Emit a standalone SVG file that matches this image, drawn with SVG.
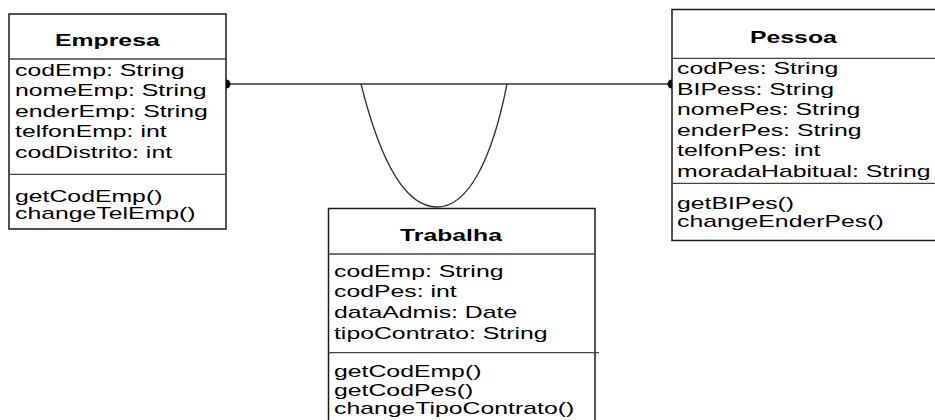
<svg xmlns="http://www.w3.org/2000/svg" width="935" height="420" viewBox="0 0 935 420">
<style>
.box{fill:#fff;stroke:#1a1a1a;stroke-width:1.5}
.div{stroke:#444;stroke-width:1.3}
.t{font-family:"Liberation Sans",Arial,sans-serif;font-size:16px;fill:#000}
.h{font-family:"Liberation Sans",Arial,sans-serif;font-size:16px;font-weight:bold;fill:#000}
.conn{fill:none;stroke:#333;stroke-width:1.3}
</style>
<rect width="935" height="420" fill="#fff"/>
<g id="connectors">
<line class="conn" x1="226" y1="84" x2="672" y2="84"/>
<path class="conn" d="M361,84 C380,160 405,207 437,207 C468,207 492,160 507,84"/>
<circle cx="226" cy="84" r="4.5" fill="#000"/>
<circle cx="672" cy="84" r="4.5" fill="#000"/>
</g>
<g id="Empresa">
<rect class="box" x="9" y="14" width="217" height="215"/>
<line class="div" x1="9" y1="59" x2="226" y2="59"/>
<line class="div" x1="9" y1="174.3" x2="226" y2="174.3"/>
<g transform="scale(1.55,1)">
<text class="h" x="35.48" y="46">Empresa</text>
<text class="t" x="9.68" y="76">codEmp: String</text>
<text class="t" x="9.68" y="96.5">nomeEmp: String</text>
<text class="t" x="9.68" y="117">enderEmp: String</text>
<text class="t" x="9.68" y="137.5">telfonEmp: int</text>
<text class="t" x="9.68" y="158">codDistrito: int</text>
<text class="t" x="9.68" y="202">getCodEmp()</text>
<text class="t" x="9.68" y="219.5">changeTelEmp()</text>
</g>
</g>
<g id="Pessoa">
<rect class="box" x="672" y="9.5" width="280" height="231"/>
<line class="div" x1="672" y1="58.3" x2="935" y2="58.3"/>
<line class="div" x1="672" y1="183.3" x2="935" y2="183.3"/>
<g transform="scale(1.55,1)">
<text class="h" x="483.87" y="43">Pessoa</text>
<text class="t" x="436.77" y="74">codPes: String</text>
<text class="t" x="436.77" y="94.6">BIPess: String</text>
<text class="t" x="436.77" y="115.2">nomePes: String</text>
<text class="t" x="436.77" y="135.8">enderPes: String</text>
<text class="t" x="436.77" y="156.4">telfonPes: int</text>
<text class="t" x="436.77" y="177">moradaHabitual: String</text>
<text class="t" x="436.77" y="209.5">getBIPes()</text>
<text class="t" x="436.77" y="227">changeEnderPes()</text>
</g>
</g>
<g id="Trabalha">
<rect class="box" x="328.5" y="208.5" width="266.5" height="230"/>
<line class="div" x1="328.5" y1="254" x2="595" y2="254"/>
<line class="div" x1="328.5" y1="352.7" x2="599" y2="352.7"/>
<g transform="scale(1.55,1)">
<text class="h" x="258.06" y="241">Trabalha</text>
<text class="t" x="215.48" y="277">codEmp: String</text>
<text class="t" x="215.48" y="297.5">codPes: int</text>
<text class="t" x="215.48" y="318.5">dataAdmis: Date</text>
<text class="t" x="215.48" y="339">tipoContrato: String</text>
<text class="t" x="215.48" y="377.5">getCodEmp()</text>
<text class="t" x="215.48" y="396">getCodPes()</text>
<text class="t" x="215.48" y="414.5">changeTipoContrato()</text>
</g>
</g>
</svg>
